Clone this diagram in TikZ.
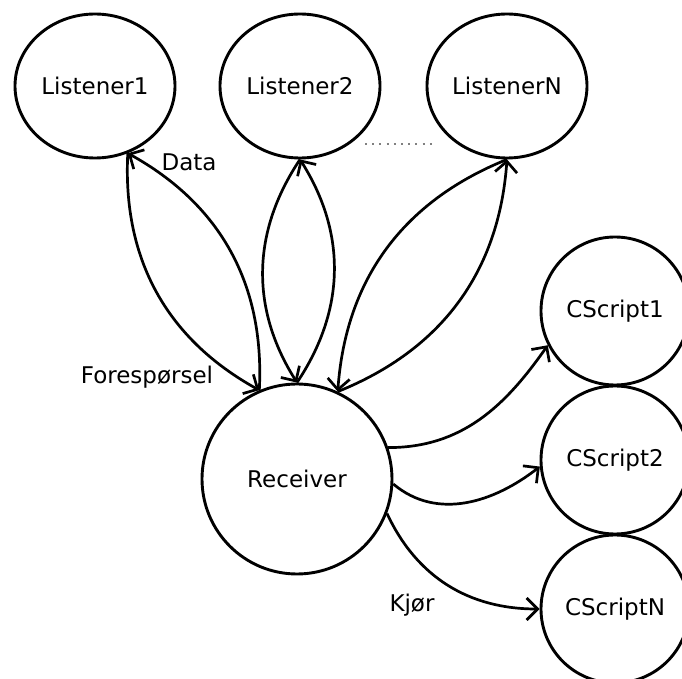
\documentclass[tikz,border=0pt]{standalone}
\usepackage{fontspec}
\setmainfont{DejaVu Sans}
\usetikzlibrary{arrows.meta,shapes.geometric}
\tikzset{
  listener/.style={draw,ellipse,line width=1.45pt,minimum width=80pt,minimum height=72pt,inner sep=0pt},
  worker/.style={draw,circle,line width=1.45pt,inner sep=0pt},
  flow/.style={line width=1.35pt,-{Straight Barb[length=5.5pt,width=11pt,line width=1.35pt]}},
  lbl/.style={font=\fontsize{11.5}{13}\selectfont}
}

\begin{document}
\begin{tikzpicture}[x=0.5pt,y=-0.5pt,font=\fontsize{11.5}{13}\selectfont]
  \useasboundingbox (0,0) rectangle (682,679);

  % Listeners
  \node[listener] (l1) at (95,86) {Listener1};
  \node[listener] (l2) at (300,86) {Listener2};
  \node[listener] (ln) at (507,86) {ListenerN};
  \coordinate (dotA) at (365,144);
  \coordinate (dotB) at (437,144);
  \draw[gray,line width=1pt,dash pattern=on 1pt off 2.6pt] (dotA) -- (dotB);

  % Receiver and scripts
  \node[worker,minimum size=95pt] (rc) at (297,479) {Receiver};
  \node[worker,minimum size=74pt] (cs1) at (615,311) {CScript1};
  \node[worker,minimum size=74pt] (cs2) at (615,460) {CScript2};
  \node[worker,minimum size=74pt] (csn) at (615,609) {CScriptN};

  % Requests and data
  \draw[flow] (l1.-64.5) to[bend right=32] (rc.113);
  \draw[flow] (rc.113) to[bend right=32] (l1.-64.5);
  \draw[flow] (l2.south) to[bend right=33] (rc.north);
  \draw[flow] (rc.north) to[bend right=33] (l2.south);
  \draw[flow] (ln.south) to[bend right=32] (rc.65);
  \draw[flow] (rc.65) to[bend right=32] (ln.south);

  % Run scripts
  \draw[flow] (rc.19) to[out=0,in=235] (cs1.207);
  \draw[flow] (rc.-3) to[out=-40,in=218] (cs2.185);
  \draw[flow] (rc.-21) to[out=-65,in=180] (csn.180);

  \node[lbl] (data) at (189,162) {Data};
  \node[lbl] (req) at (147,377) {Forespørsel};
  \node[lbl] (run) at (412,605) {Kjør};
\end{tikzpicture}
\end{document}
